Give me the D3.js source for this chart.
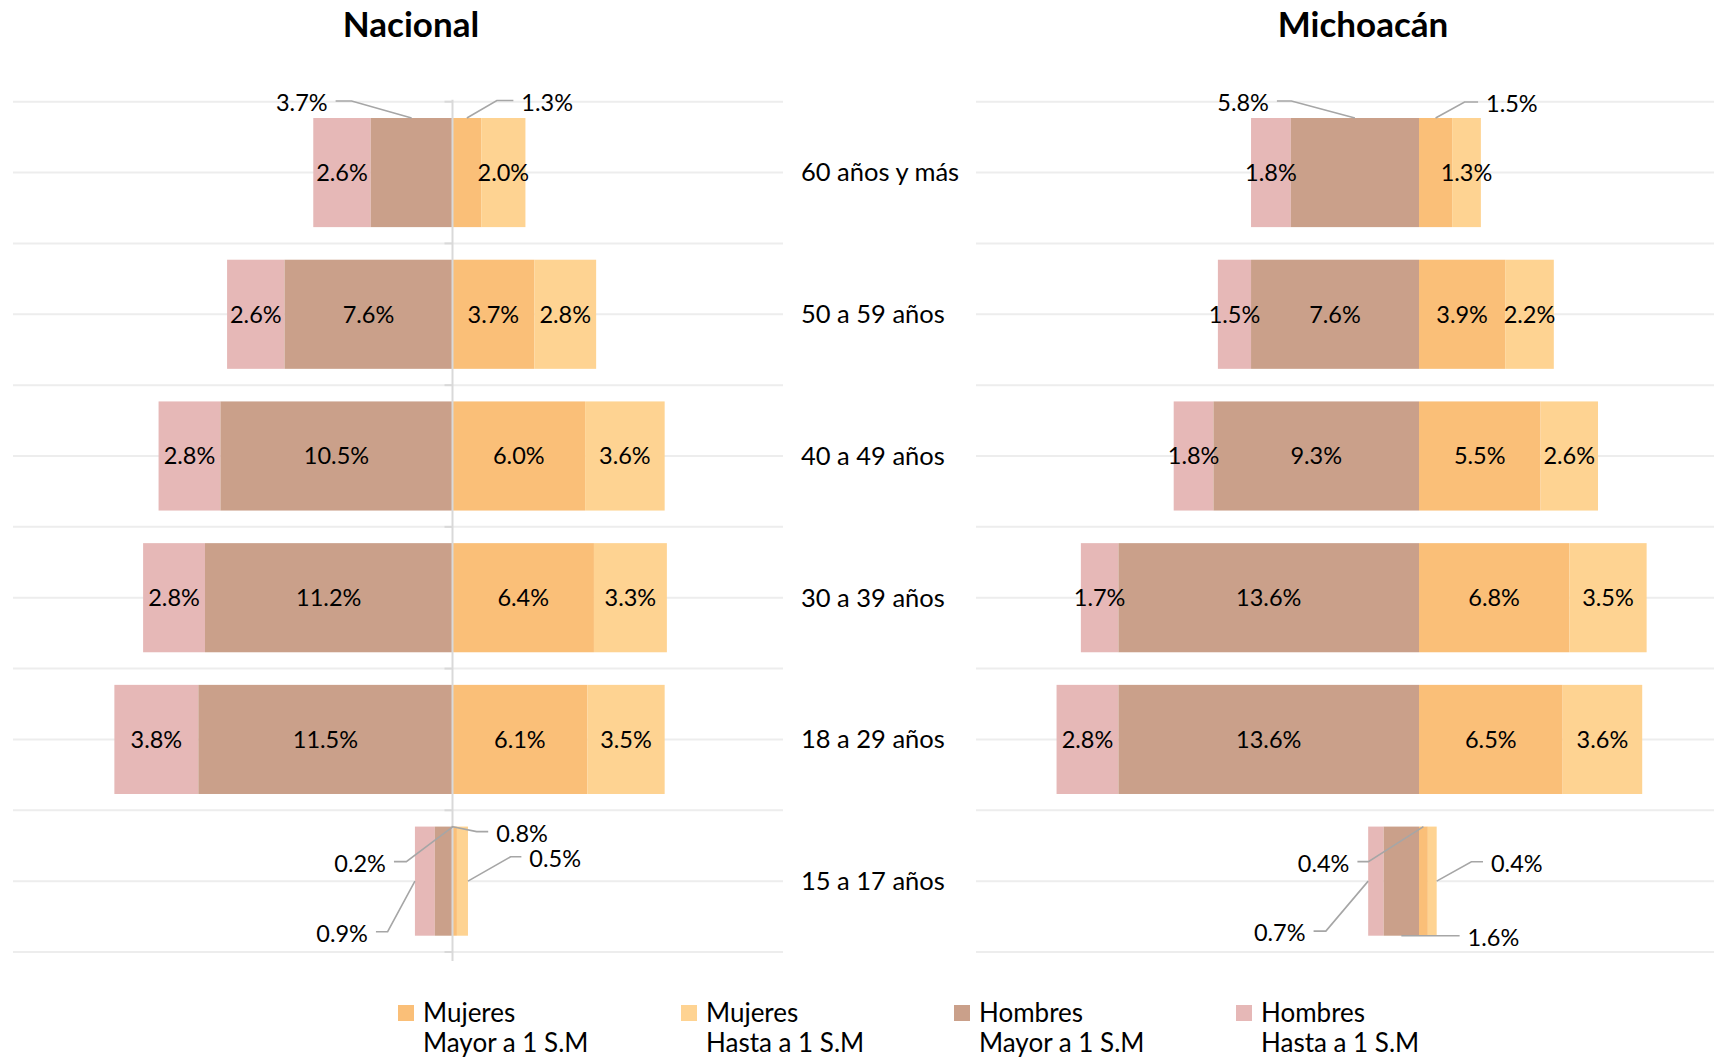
<!DOCTYPE html>
<html>
<head>
<meta charset="utf-8">
<script src="https://cdn.jsdelivr.net/npm/d3@7"></script>
<style>
  html, body { margin: 0; padding: 0; background: #fff; }
  svg { display: block; font-family: Lato, "Open Sans", "DejaVu Sans", sans-serif; }
</style>
</head>
<body>
<svg id="chart" width="1714" height="1061"></svg>
<script>
// ---------- DATA ----------
const categories = ["60 años y más", "50 a 59 años", "40 a 49 años", "30 a 39 años", "18 a 29 años", "15 a 17 años"];
const seriesNames = ["Hombres Hasta a 1 S.M", "Hombres Mayor a 1 S.M", "Mujeres Mayor a 1 S.M", "Mujeres Hasta a 1 S.M"];
// Nacional (%)
const nacHombresHasta = [2.6, 2.6, 2.8, 2.8, 3.8, 0.9];
const nacHombresMayor = [3.7, 7.6, 10.5, 11.2, 11.5, 0.8];
const nacMujeresMayor = [1.3, 3.7, 6.0, 6.4, 6.1, 0.2];
const nacMujeresHasta = [2.0, 2.8, 3.6, 3.3, 3.5, 0.5];
// Michoacán (%)
const micHombresHasta = [1.8, 1.5, 1.8, 1.7, 2.8, 0.7];
const micHombresMayor = [5.8, 7.6, 9.3, 13.6, 13.6, 1.6];
const micMujeresMayor = [1.5, 3.9, 5.5, 6.8, 6.5, 0.4];
const micMujeresHasta = [1.3, 2.2, 2.6, 3.5, 3.6, 0.4];
const panelTitles = ["Nacional", "Michoacán"];
const legendLabels = [["Mujeres", "Mayor a 1 S.M"], ["Mujeres", "Hasta a 1 S.M"], ["Hombres", "Mayor a 1 S.M"], ["Hombres", "Hasta a 1 S.M"]];

// ---------- STYLE / LAYOUT ----------
const colors = {
  hh: "#E6B8B7", hm: "#CAA08A", mm: "#FABF78", mh: "#FED392"
};
const legendColors = [colors.mm, colors.mh, colors.hm, colors.hh];
const pxPerPct = 22.1;
const rowTop = 101.7, rowBottom = 952;
const barFrac = 0.77;
const labelSize = 23.5;

const svg = d3.select("#chart");

const y = d3.scaleBand().domain(categories).range([rowTop, rowBottom]).padding(0);
const barH = y.bandwidth() * barFrac;
const barY = c => y(c) + (y.bandwidth() - barH) / 2;

// callouts: which value uses an external label (layout only)
const callouts = {
  "0|0|hm": { fx: 0.5, fy: 0, ex: -60, ey: -17, h: -16 },
  "0|0|mm": { fx: 0.5, fy: 0, ex: 30, ey: -17.5, h: 16.5 },
  "1|0|hm": { fx: 0.5, fy: 0, ex: -63.5, ey: -17, h: -14.5 },
  "1|0|mm": { fx: 0.5, fy: 0, ex: 29, ey: -16, h: 13.5 },
  "0|5|hm": { fx: 0.95, fy: 0, ex: 25, ey: 5, h: 11.6 },
  "0|5|mm": { fx: 0.1, fy: 0, ex: -46.6, ey: 35, h: -12.4 },
  "0|5|mh": { fx: 1, fy: 0.5, ex: 42.7, ey: -24.4, h: 10.7 },
  "0|5|hh": { fx: 0, fy: 0.5, ex: -27.3, ey: 50.6, h: -11.7 },
  "1|5|mm": { fx: 0.5, fy: 0, ex: -55, ey: 35, h: -11 },
  "1|5|hh": { fx: 0, fy: 0.5, ex: -42.3, ey: 50, h: -12.3 },
  "1|5|mh": { fx: 1, fy: 0.5, ex: 34.7, ey: -19.4, h: 11.6 },
  "1|5|hm": { fx: 0.5, fy: 1, ex: 0, ey: 0, h: 58.3 }
};

const panels = [
  { idx: 0, center: 452.5, gridX: [13, 783], titleX: 411, hh: nacHombresHasta, hm: nacHombresMayor, mm: nacMujeresMayor, mh: nacMujeresHasta, axis: true },
  { idx: 1, center: 1419, gridX: [976, 1714], titleX: 1363, hh: micHombresHasta, hm: micHombresMayor, mm: micMujeresMayor, mh: micMujeresHasta, axis: false }
];

const fmt = v => v.toFixed(1) + "%";

panels.forEach(p => {
  const x = d3.scaleLinear().domain([-20, 20]).range([p.center - 20 * pxPerPct, p.center + 20 * pxPerPct]);
  const g = svg.append("g");

  const gy = [];
  categories.forEach(c => { gy.push(y(c)); gy.push(y(c) + y.bandwidth() / 2); });
  gy.push(rowBottom);
  g.selectAll("line.grid").data(gy).join("line")
    .attr("x1", p.gridX[0]).attr("x2", p.gridX[1])
    .attr("y1", d => d).attr("y2", d => d)
    .attr("stroke", "#EDEDED").attr("stroke-width", 2);

  svg.append("text").attr("x", p.titleX).attr("y", 37)
    .attr("text-anchor", "middle").attr("font-weight", "bold").attr("font-size", 35)
    .attr("fill", "#000").text(panelTitles[p.idx]);

  const segs = [];
  categories.forEach((c, i) => {
    const hm = p.hm[i], hh = p.hh[i], mm = p.mm[i], mh = p.mh[i];
    segs.push({ key: "hh", i, c, v: hh, x0: x(-(hm + hh)), x1: x(-hm) });
    segs.push({ key: "hm", i, c, v: hm, x0: x(-hm), x1: x(0) });
    segs.push({ key: "mm", i, c, v: mm, x0: x(0), x1: x(mm) });
    segs.push({ key: "mh", i, c, v: mh, x0: x(mm), x1: x(mm + mh) });
  });

  g.selectAll("rect.seg").data(segs).join("rect")
    .attr("x", d => d.x0).attr("y", d => barY(d.c))
    .attr("width", d => d.x1 - d.x0).attr("height", barH)
    .attr("fill", d => colors[d.key]);

  if (p.axis) {
    const ax = x(0);
    g.append("line").attr("x1", ax).attr("x2", ax).attr("y1", rowTop - 2).attr("y2", rowBottom + 9)
      .attr("stroke", "#D9D9D9").attr("stroke-width", 2);
    const ticks = categories.map(c => y(c)).concat([rowBottom]);
    g.selectAll("line.tick").data(ticks).join("line")
      .attr("x1", ax - 8).attr("x2", ax).attr("y1", d => d).attr("y2", d => d)
      .attr("stroke", "#D9D9D9").attr("stroke-width", 2);
  }

  segs.forEach(d => {
    const co = callouts[p.idx + "|" + d.i + "|" + d.key];
    if (!co) {
      g.append("text").attr("x", (d.x0 + d.x1) / 2).attr("y", barY(d.c) + barH / 2)
        .attr("dy", "0.35em").attr("text-anchor", "middle").attr("font-size", labelSize)
        .attr("fill", "#000").text(fmt(d.v));
    } else {
      const ax = d.x0 + co.fx * (d.x1 - d.x0);
      const ay = barY(d.c) + co.fy * barH;
      const ex = ax + co.ex, ey = ay + co.ey;
      const endX = ex + co.h;
      g.append("polyline")
        .attr("points", [[ax, ay], [ex, ey], [endX, ey]].map(q => q.join(",")).join(" "))
        .attr("fill", "none").attr("stroke", "#A6A6A6").attr("stroke-width", 1.6);
      const right = co.h > 0;
      g.append("text").attr("x", endX + (right ? 8 : -8)).attr("y", ey + 2)
        .attr("dy", "0.35em").attr("text-anchor", right ? "start" : "end")
        .attr("font-size", labelSize).attr("fill", "#000").text(fmt(d.v));
    }
  });
});

svg.selectAll("text.cat").data(categories).join("text")
  .attr("x", 801).attr("y", c => y(c) + y.bandwidth() / 2)
  .attr("dy", "0.35em").attr("font-size", 25.5).attr("fill", "#000")
  .text(c => c);

const legendX = [398, 681, 954, 1236];
const lg = svg.append("g");
legendLabels.forEach((lab, i) => {
  lg.append("rect").attr("x", legendX[i]).attr("y", 1005).attr("width", 16).attr("height", 16)
    .attr("fill", legendColors[i]);
  lg.append("text").attr("x", legendX[i] + 25).attr("y", 1013).attr("dy", "0.35em")
    .attr("font-size", 26).attr("fill", "#000").text(lab[0]);
  lg.append("text").attr("x", legendX[i] + 25).attr("y", 1043).attr("dy", "0.35em")
    .attr("font-size", 26).attr("fill", "#000").text(lab[1]);
});
</script>
</body>
</html>
